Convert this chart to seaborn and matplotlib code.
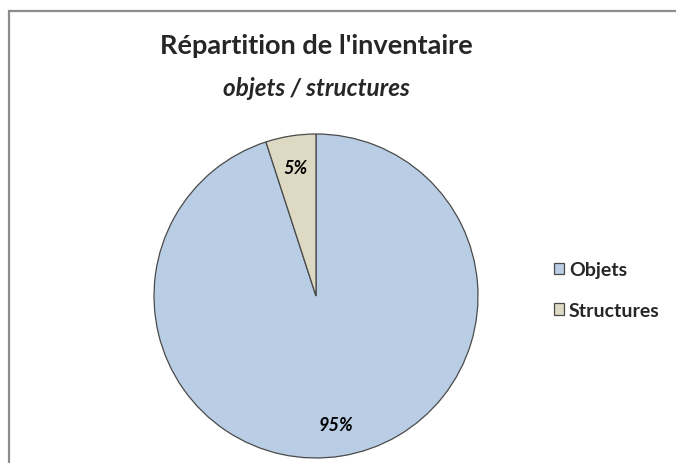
import matplotlib

matplotlib.use("Agg")
import matplotlib.pyplot as plt
import seaborn as sns
from matplotlib.patches import Rectangle

categories = ["Objets", "Structures"]
shares = [95, 5]
colors = ["#B9CDE5", "#DDD9C3"]
title = "Répartition de l'inventaire"
subtitle = "objets / structures"

sns.set_theme(style="white")
plt.rcParams["font.family"] = ["Lato", "DejaVu Sans"]

fig = plt.figure(figsize=(6.76, 4.64), dpi=100)
fig.patch.set_facecolor("white")

# grey frame, cropped on the right and bottom like the source screenshot
fig.patches.append(Rectangle((9 / 676, -0.1), 1.2, (464 - 12) / 464 + 0.1,
                             transform=fig.transFigure, fill=False,
                             edgecolor="#8C8C8C", linewidth=1.6))

ax = fig.add_axes([(316 - 162) / 676, 5 / 464, 324 / 676, 324 / 464])
wedges, texts, autotexts = ax.pie(
    shares,
    colors=colors,
    startangle=90,
    counterclock=False,
    autopct=lambda p: f"{p:.0f}%",
    pctdistance=0.8,
    wedgeprops=dict(edgecolor="#4A4A4A", linewidth=0.9),
    textprops=dict(fontsize=13, fontweight="bold", fontstyle="italic", color="black"),
)
ax.set_xlim(-1, 1)
ax.set_ylim(-1, 1)
ax.set_aspect("equal")

fig.text(316 / 676, 1 - 46 / 464, title, ha="center", va="center",
         fontsize=19.5, fontweight="bold")
fig.text(316 / 676, 1 - 89 / 464, subtitle, ha="center", va="center",
         fontsize=17.5, fontweight="bold", fontstyle="italic")

leg = fig.legend(wedges, categories, loc="center left",
                 bbox_to_anchor=(536 / 676, 1 - 291 / 464), frameon=False,
                 handlelength=0.55, handleheight=0.55, handletextpad=0.25,
                 labelspacing=1.2, prop=dict(size=14, weight="bold"))

fig.savefig("out.png", dpi=100)
plt.close(fig)
